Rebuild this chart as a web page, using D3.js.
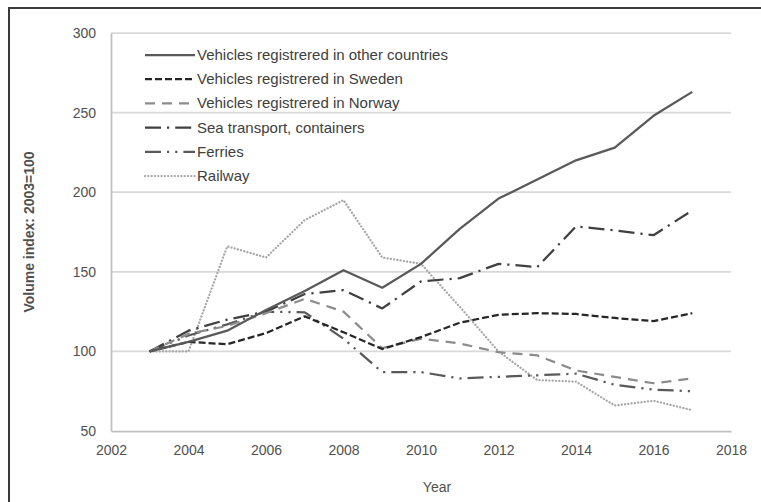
<!DOCTYPE html>
<html>
<head>
<meta charset="utf-8">
<script src="https://cdn.jsdelivr.net/npm/d3@7"></script>
<style>
  body { margin: 0; background: #fff; }
  text { font-family: "Liberation Sans", Arial, sans-serif; }
</style>
</head>
<body>
<script>
var years = [2003, 2004, 2005, 2006, 2007, 2008, 2009, 2010, 2011, 2012, 2013, 2014, 2015, 2016, 2017];

var otherCountries = [100, 106, 113, 126, 138, 151, 140, 155, 177, 196, 208, 220, 228, 248, 263];
var sweden = [100, 106, 104.5, 111.5, 122, 112, 101.5, 109, 118, 123, 124, 123.5, 121, 119, 124];
var norway = [100, 111, 116, 124, 133, 125, 102, 108, 105, 99.5, 97.5, 88, 84, 80, 83];
var containers = [100, 113, 120, 125, 136, 138.5, 127, 144, 146, 155, 153, 178.5, 176, 173, 188.5];
var ferries = [100, 110, 117, 125, 124.5, 108, 87, 87, 83, 84, 85, 86, 79, 76, 75];
var railway = [100, 100, 166, 159, 182.5, 195, 159, 155, 128, 100, 82, 81, 66, 69, 63];

var seriesNames = [
  "Vehicles registrered in other countries",
  "Vehicles registrered in Sweden",
  "Vehicles registrered in Norway",
  "Sea transport, containers",
  "Ferries",
  "Railway"
];

var xTicks = [2002, 2004, 2006, 2008, 2010, 2012, 2014, 2016, 2018];
var yTicks = [50, 100, 150, 200, 250, 300];

// line styles (colour, dash) per series
var styles = [
  { color: "#595959", dash: null, cap: "butt" },
  { color: "#262626", dash: "7,3", cap: "butt" },
  { color: "#8c8c8c", dash: "10,7", cap: "butt" },
  { color: "#404040", dash: "16,6,2.2,6", cap: "butt" },
  { color: "#595959", dash: "16,6,2.2,6,2.2,6", cap: "butt" },
  { color: "#a6a6a6", dash: "0.1,3.2", cap: "round" }
];

var allValues = [otherCountries, sweden, norway, containers, ferries, railway];
var series = seriesNames.map(function (name, i) {
  return {
    name: name,
    style: styles[i],
    values: years.map(function (y, j) { return { year: y, value: allValues[i][j] }; })
  };
});

var outerWidth = 761;
var outerHeight = 502;
var margin = { top: 33, right: 30, bottom: 71, left: 111 };
var width = outerWidth - margin.left - margin.right;
var height = outerHeight - margin.top - margin.bottom;

var svg = d3.select("body")
  .append("svg")
  .attr("width", outerWidth)
  .attr("height", outerHeight);

// outer frame (only left and top edges fall inside the window)
svg.append("rect")
  .attr("x", 9)
  .attr("y", 8)
  .attr("width", 900)
  .attr("height", 700)
  .attr("fill", "none")
  .attr("stroke", "#3a3a3a")
  .attr("stroke-width", 2);

var xScale = d3.scaleLinear().domain([2002, 2018]).range([0, width]);
var yScale = d3.scaleLinear().domain([50, 300]).range([height, 0]);

var g = svg.append("g")
  .attr("transform", "translate(" + margin.left + "," + margin.top + ")");

// gridlines
g.selectAll(".grid")
  .data(yTicks.filter(function (d) { return d > 50; }))
  .enter()
  .append("line")
  .attr("class", "grid")
  .attr("x1", 0)
  .attr("x2", width)
  .attr("y1", function (d) { return yScale(d); })
  .attr("y2", function (d) { return yScale(d); })
  .attr("stroke", "#d9d9d9")
  .attr("stroke-width", 1.75);

// axes
var yAxis = d3.axisLeft(yScale).tickValues(yTicks).tickSize(0).tickPadding(15);
var xAxis = d3.axisBottom(xScale).tickValues(xTicks).tickSize(0).tickFormat(d3.format("d")).tickPadding(14);

var gy = g.append("g").call(yAxis);
var gx = g.append("g").attr("transform", "translate(0," + height + ")").call(xAxis);

[gx, gy].forEach(function (ax) {
  ax.select(".domain").attr("stroke", "#bfbfbf").attr("stroke-width", 1.75);
  ax.selectAll("text")
    .attr("fill", "#505050")
    .attr("font-size", 14)
    .attr("font-family", "Liberation Sans, Arial, sans-serif");
});

// lines
var line = d3.line()
  .x(function (d) { return xScale(d.year); })
  .y(function (d) { return yScale(d.value); });

g.selectAll(".line-path")
  .data(series.slice().reverse())
  .enter()
  .append("path")
  .attr("class", "line-path")
  .attr("d", function (d) { return line(d.values); })
  .attr("fill", "none")
  .attr("stroke", function (d) { return d.style.color; })
  .attr("stroke-width", 2.25)
  .attr("stroke-dasharray", function (d) { return d.style.dash; })
  .attr("stroke-linecap", function (d) { return d.style.cap; })
  .attr("stroke-linejoin", "round");

// legend
var legend = svg.selectAll(".legend")
  .data(series)
  .enter()
  .append("g")
  .attr("class", "legend")
  .attr("transform", function (d, i) { return "translate(145," + (55 + i * 24.2) + ")"; });

legend.append("line")
  .attr("x1", 0)
  .attr("x2", 50)
  .attr("y1", 0)
  .attr("y2", 0)
  .attr("stroke", function (d) { return d.style.color; })
  .attr("stroke-width", 2.25)
  .attr("stroke-dasharray", function (d) { return d.style.dash; })
  .attr("stroke-linecap", function (d) { return d.style.cap; });

legend.append("text")
  .attr("x", 52)
  .attr("y", 5)
  .attr("font-size", 15)
  .attr("fill", "#404040")
  .text(function (d) { return d.name; });

// axis titles
svg.append("text")
  .attr("x", margin.left + xScale(2010) + 16)
  .attr("y", 492)
  .attr("text-anchor", "middle")
  .attr("font-size", 14)
  .attr("fill", "#505050")
  .text("Year");

svg.append("text")
  .attr("transform", "translate(34," + (margin.top + height / 2) + ") rotate(-90)")
  .attr("text-anchor", "middle")
  .attr("font-size", 14)
  .attr("font-weight", "bold")
  .attr("fill", "#505050")
  .text("Volume index: 2003=100");
</script>
</body>
</html>
